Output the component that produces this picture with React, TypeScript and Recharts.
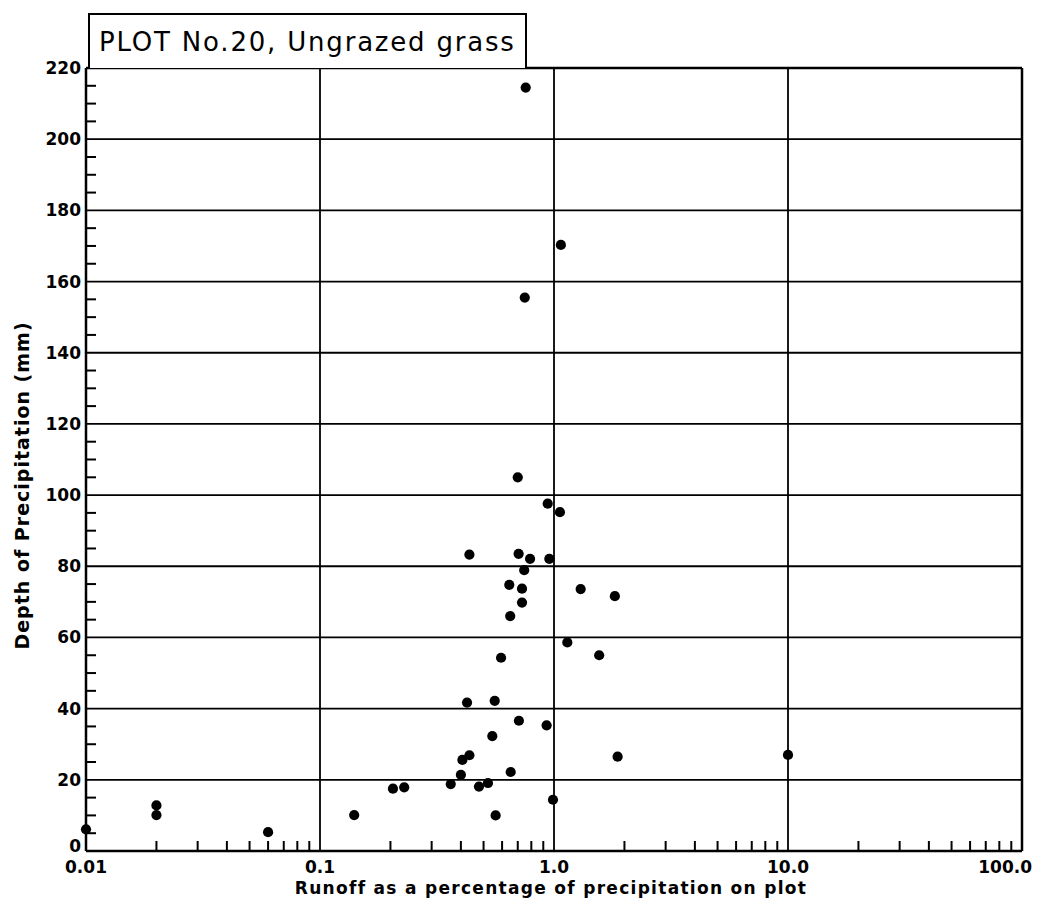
import { ScatterChart, Scatter, XAxis, YAxis, ReferenceLine } from "recharts";

// runoff (% of precipitation) and storm depth (mm) for each event
const RUNOFF = [
  0.01, 0.02, 0.02, 0.06, 0.14, 0.205, 0.229, 0.362, 0.4, 0.406, 0.435, 0.425,
  0.435, 0.478, 0.522, 0.545, 0.558, 0.563, 0.594, 0.644, 0.65, 0.653, 0.7,
  0.706, 0.708, 0.73, 0.73, 0.746, 0.757, 0.75, 0.79, 0.93, 0.94, 0.955, 0.99,
  1.06, 1.07, 1.14, 1.3, 1.56, 1.82, 1.87, 10.0,
];
const DEPTH = [
  6.1, 12.8, 10.1, 5.3, 10.1, 17.5, 17.9, 18.8, 21.4, 25.6, 26.9, 41.7, 83.3,
  18.1, 19.1, 32.3, 42.2, 10.0, 54.3, 74.8, 66.0, 22.2, 105.0, 83.5, 36.6, 73.7,
  69.8, 78.9, 214.5, 155.5, 82.1, 35.3, 97.6, 82.1, 14.4, 95.2, 170.3, 58.6,
  73.6, 55.0, 71.6, 26.5, 27.0,
];

const X_DECADES = [0.01, 0.1, 1, 10, 100];
const X_LABELS = ["0.01", "0.1", "1.0", "10.0", "100.0"];
const Y_MAJOR = [0, 20, 40, 60, 80, 100, 120, 140, 160, 180, 200, 220];

const TITLE = "PLOT No.20, Ungrazed grass";
const X_TITLE = "Runoff as a percentage of precipitation on plot";
const Y_TITLE = "Depth of Precipitation (mm)";

const FONT = "'DejaVu Sans', sans-serif";
const TICK_LEN = 10;

const data = RUNOFF.map((x, i) => ({ x, y: DEPTH[i] }));

// 2..9 inside each decade
const xMinor = X_DECADES.slice(0, -1).flatMap((d) =>
  [2, 3, 4, 5, 6, 7, 8, 9].map((k) => +(d * k).toPrecision(3))
);
const xBottomTicks = [...X_DECADES, ...xMinor];
// every 5 mm
const yTicks = Array.from({ length: 45 }, (_, i) => i * 5);
const yMinor = yTicks.filter((v) => v % 20 !== 0);

const BottomTick = ({ x, y, payload }: any) => {
  const idx = X_DECADES.indexOf(payload.value);
  if (idx < 0) {
    return <line x1={x} x2={x} y1={y} y2={y - TICK_LEN} stroke="#000" strokeWidth={2} />;
  }
  const last = idx === X_DECADES.length - 1;
  return (
    <text
      x={last ? x + 10 : x}
      y={y + 22}
      textAnchor={last ? "end" : "middle"}
      fontFamily={FONT}
      fontWeight="bold"
      fontSize={17}
      fill="#000"
    >
      {X_LABELS[idx]}
    </text>
  );
};

const TopTick = ({ x, y }: any) => (
  <line x1={x} x2={x} y1={y} y2={y + TICK_LEN} stroke="#000" strokeWidth={2} />
);

const LeftTick = ({ x, y, payload }: any) => {
  const v = payload.value;
  if (v % 20 !== 0) {
    return <line x1={x} x2={x + TICK_LEN} y1={y} y2={y} stroke="#000" strokeWidth={2} />;
  }
  return (
    <text
      x={x - 5}
      y={v === 0 ? y + 1 : y + 6}
      textAnchor="end"
      fontFamily={FONT}
      fontWeight="bold"
      fontSize={17}
      fill="#000"
    >
      {v}
    </text>
  );
};

const RightTick = ({ x, y }: any) => (
  <line x1={x} x2={x - TICK_LEN} y1={y} y2={y} stroke="#000" strokeWidth={2} />
);

const XTitle = ({ viewBox }: any) => (
  <text
    x={viewBox.x + viewBox.width / 2 - 3}
    y={viewBox.y + 43}
    textAnchor="middle"
    fontFamily={FONT}
    fontWeight="bold"
    fontSize={17}
    letterSpacing={1.3}
    fill="#000"
  >
    {X_TITLE}
  </text>
);

const YTitle = ({ viewBox }: any) => {
  const cx = 22;
  const cy = viewBox.y + viewBox.height / 2 + 26;
  return (
    <text
      x={cx}
      y={cy}
      transform={`rotate(-90, ${cx}, ${cy})`}
      textAnchor="middle"
      dominantBaseline="central"
      fontFamily={FONT}
      fontWeight="bold"
      fontSize={19}
      letterSpacing={1}
      fill="#000"
    >
      {Y_TITLE}
    </text>
  );
};

const Dot = ({ cx, cy }: any) => <circle cx={cx} cy={cy} r={5.1} fill="#000" />;

export default function App() {
  return (
    <div
      style={{
        position: "absolute",
        left: 0,
        top: 0,
        width: 1040,
        height: 912,
        background: "#fff",
      }}
    >
      <ScatterChart
        width={1040}
        height={912}
        margin={{ top: 58, right: 8, bottom: 0, left: 0 }}
      >
        <XAxis
          dataKey="x"
          type="number"
          scale="log"
          domain={[0.01, 100]}
          ticks={xBottomTicks}
          interval={0}
          tick={<BottomTick />}
          tickLine={false}
          tickSize={0}
          tickMargin={0}
          height={61}
          axisLine={{ stroke: "#000", strokeWidth: 2.5 }}
          label={<XTitle />}
        />
        <XAxis
          xAxisId="top"
          orientation="top"
          type="number"
          scale="log"
          domain={[0.01, 100]}
          ticks={xMinor}
          interval={0}
          tick={<TopTick />}
          tickLine={false}
          tickSize={0}
          tickMargin={0}
          height={10}
          axisLine={{ stroke: "#000", strokeWidth: 2.5 }}
        />
        <YAxis
          dataKey="y"
          type="number"
          domain={[0, 220]}
          ticks={yTicks}
          interval={0}
          tick={<LeftTick />}
          tickLine={false}
          tickSize={0}
          tickMargin={0}
          width={86}
          axisLine={{ stroke: "#000", strokeWidth: 2.5 }}
          label={<YTitle />}
        />
        <YAxis
          yAxisId="right"
          orientation="right"
          type="number"
          domain={[0, 220]}
          ticks={yMinor}
          interval={0}
          tick={<RightTick />}
          tickLine={false}
          tickSize={0}
          tickMargin={0}
          width={10}
          axisLine={{ stroke: "#000", strokeWidth: 2.5 }}
        />
        {X_DECADES.slice(1, -1).map((v) => (
          <ReferenceLine key={`gx-${v}`} x={v} stroke="#000" strokeWidth={1.8} />
        ))}
        {Y_MAJOR.slice(1, -1).map((v) => (
          <ReferenceLine key={`gy-${v}`} y={v} stroke="#000" strokeWidth={1.8} />
        ))}
        <Scatter data={data} shape={<Dot />} isAnimationActive={false} />
      </ScatterChart>
      <div
        style={{
          position: "absolute",
          left: 88,
          top: 13,
          width: 439,
          height: 55,
          border: "2px solid #000",
          borderBottom: "none",
          background: "#fff",
          fontFamily: FONT,
          fontSize: 26,
          letterSpacing: 1.8,
          lineHeight: "55px",
          paddingLeft: 9,
          boxSizing: "border-box",
          whiteSpace: "nowrap",
          color: "#000",
        }}
      >
        {TITLE}
      </div>
    </div>
  );
}
